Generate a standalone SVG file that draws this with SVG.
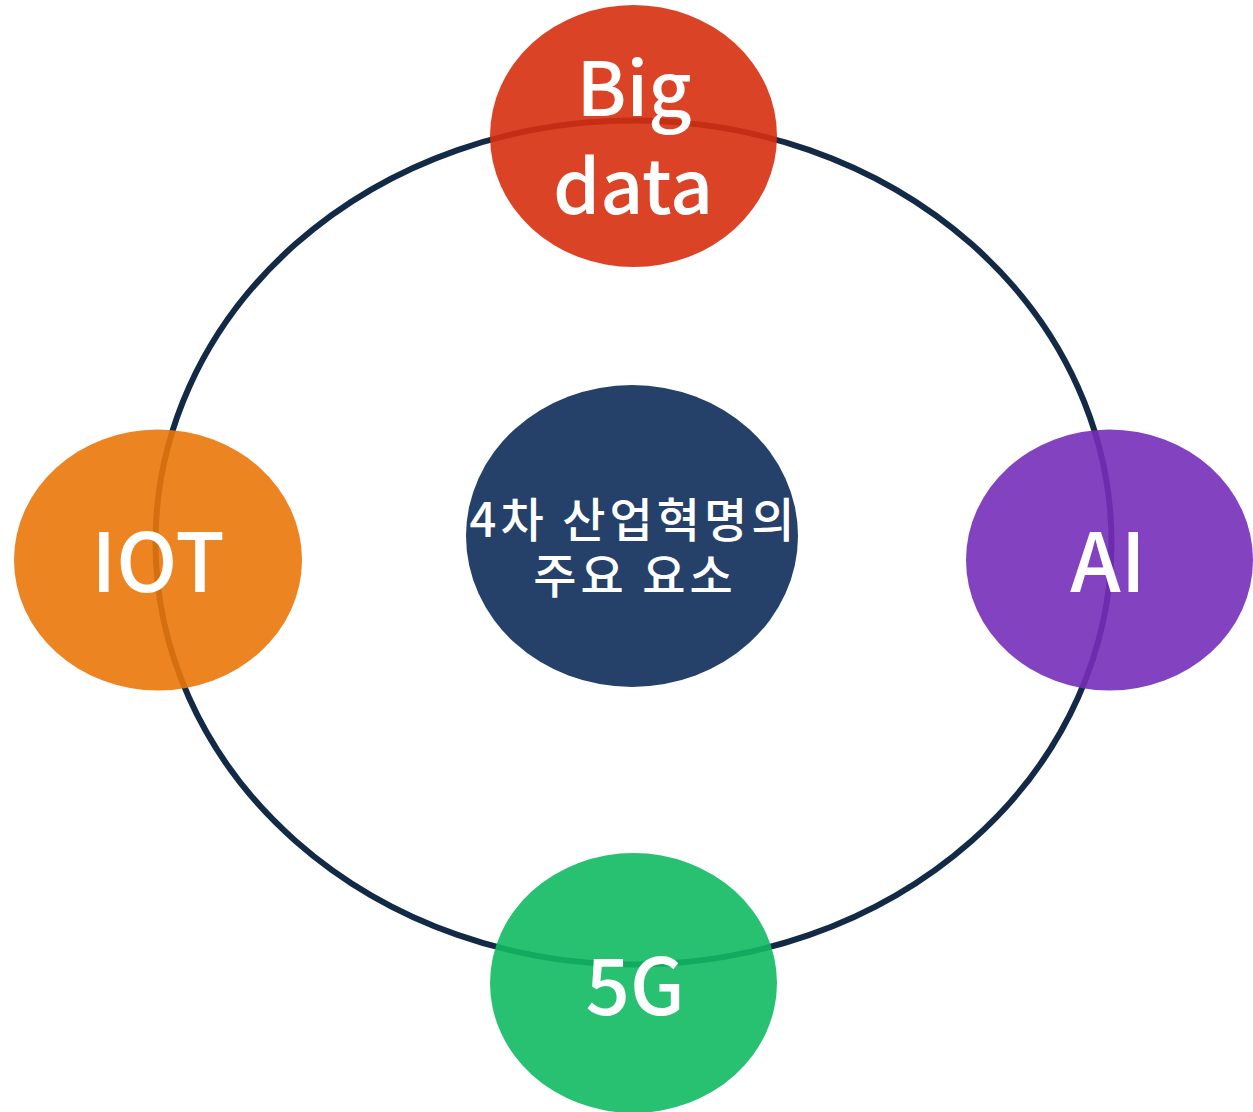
<svg xmlns="http://www.w3.org/2000/svg" width="1253" height="1112" viewBox="0 0 1253 1112">
<style>
.lbl{fill:#ffffff;font-family:"Noto Sans CJK KR","Noto Sans",sans-serif;text-anchor:middle;font-weight:500}
.kr{letter-spacing:4px}
.node{fill-opacity:0.9}
</style>
<rect width="1253" height="1112" fill="#ffffff"/>
<g id="connectors">
<ellipse cx="633.5" cy="542.5" rx="478" ry="422" fill="none" stroke="#132a47" stroke-width="6"/>
</g>
<g id="node-center">
<ellipse cx="632" cy="536" rx="166" ry="151" fill="#25416a"/>
<text class="lbl kr" x="634" y="537" font-size="47">4차 산업혁명의</text>
<text class="lbl kr" x="635" y="593" font-size="47">주요 요소</text>
</g>
<g id="node-bigdata">
<ellipse class="node" cx="633.5" cy="136" rx="143.5" ry="131" fill="#d72f0e"/>
<text class="lbl" x="634" y="116" font-size="75">Big</text>
<text class="lbl" x="633" y="214" font-size="75">data</text>
</g>
<g id="node-iot">
<ellipse class="node" cx="158" cy="560" rx="144" ry="130.5" fill="#ea7709"/>
<text class="lbl" x="158" y="592" font-size="81">IOT</text>
</g>
<g id="node-ai">
<ellipse class="node" cx="1109.5" cy="560" rx="143.5" ry="130.5" fill="#752db9"/>
<text class="lbl" x="1108" y="592" font-size="81">AI</text>
</g>
<g id="node-5g">
<ellipse class="node" cx="633.5" cy="983" rx="143.5" ry="130" fill="#11b962"/>
<text class="lbl" x="635" y="1015" font-size="78">5G</text>
</g>
</svg>
